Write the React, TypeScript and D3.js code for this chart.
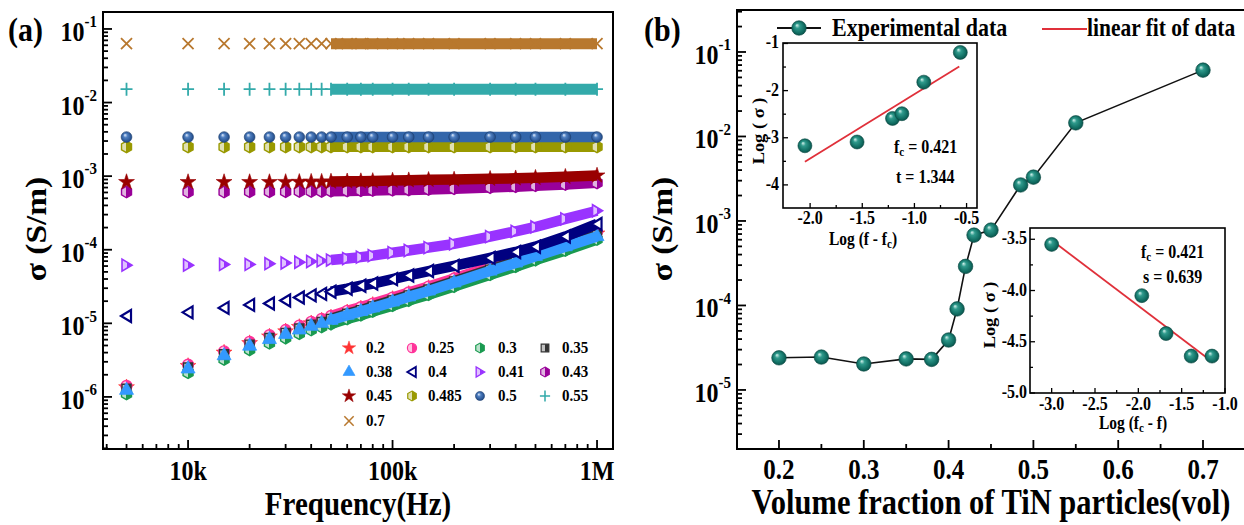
import React from 'react';
import * as d3 from 'd3';

// ---------- Panel (a): AC conductivity vs frequency ----------
const FREQ = [5e3, 1e4, 1.5e4, 2e4, 2.5e4, 3e4, 3.5e4, 4e4, 4.5e4, 5e4, 6e4, 7e4, 8e4, 1e5, 1.2e5, 1.5e5, 2e5, 3e5, 4e5, 5e5, 7e5, 1e6];

const S_020 = [1.35e-6, 2.63e-6, 3.99e-6, 5.37e-6, 6.61e-6, 7.76e-6, 8.91e-6, 1.0e-5, 1.09e-5, 1.2e-5, 1.41e-5, 1.59e-5, 1.78e-5, 2.14e-5, 2.51e-5, 3.02e-5, 3.89e-5, 5.62e-5, 7.24e-5, 8.91e-5, 1.2e-4, 1.66e-4];
const S_025 = [1.41e-6, 2.75e-6, 4.17e-6, 5.62e-6, 6.92e-6, 8.13e-6, 9.33e-6, 1.05e-5, 1.15e-5, 1.26e-5, 1.48e-5, 1.66e-5, 1.86e-5, 2.24e-5, 2.63e-5, 3.16e-5, 4.07e-5, 5.89e-5, 7.59e-5, 9.33e-5, 1.26e-4, 1.74e-4];
const S_030 = [1.1e-6, 2.14e-6, 3.24e-6, 4.37e-6, 5.37e-6, 6.31e-6, 7.24e-6, 8.13e-6, 8.91e-6, 9.77e-6, 1.15e-5, 1.29e-5, 1.45e-5, 1.74e-5, 2.04e-5, 2.45e-5, 3.16e-5, 4.57e-5, 5.89e-5, 7.24e-5, 9.77e-5, 1.38e-4];
const S_035 = [1.29e-6, 2.51e-6, 3.8e-6, 5.13e-6, 6.31e-6, 7.41e-6, 8.51e-6, 9.55e-6, 1.04e-5, 1.15e-5, 1.35e-5, 1.51e-5, 1.7e-5, 2.05e-5, 2.4e-5, 2.88e-5, 3.72e-5, 5.37e-5, 6.92e-5, 8.51e-5, 1.15e-4, 1.58e-4];
const S_038 = [1.23e-6, 2.4e-6, 3.63e-6, 4.9e-6, 6.03e-6, 7.08e-6, 8.13e-6, 9.12e-6, 1.0e-5, 1.1e-5, 1.29e-5, 1.45e-5, 1.62e-5, 1.95e-5, 2.29e-5, 2.75e-5, 3.55e-5, 5.13e-5, 6.61e-5, 8.13e-5, 1.1e-4, 1.51e-4];
const S_040 = [1.26e-5, 1.41e-5, 1.62e-5, 1.78e-5, 1.86e-5, 2.04e-5, 2.24e-5, 2.4e-5, 2.51e-5, 2.69e-5, 2.95e-5, 3.24e-5, 3.47e-5, 3.98e-5, 4.47e-5, 5.13e-5, 6.03e-5, 7.76e-5, 9.33e-5, 1.1e-4, 1.51e-4, 2.24e-4];
const S_041 = [6.17e-5, 6.17e-5, 6.31e-5, 6.31e-5, 6.46e-5, 6.61e-5, 6.76e-5, 6.92e-5, 7.08e-5, 7.24e-5, 7.59e-5, 7.94e-5, 8.32e-5, 9.12e-5, 9.77e-5, 1.07e-4, 1.2e-4, 1.51e-4, 1.78e-4, 2.04e-4, 2.63e-4, 3.39e-4];
const S_043 = [6.1e-4, 6.1e-4, 6.1e-4, 6.15e-4, 6.15e-4, 6.15e-4, 6.2e-4, 6.2e-4, 6.2e-4, 6.25e-4, 6.3e-4, 6.35e-4, 6.4e-4, 6.46e-4, 6.5e-4, 6.6e-4, 6.76e-4, 7.0e-4, 7.2e-4, 7.4e-4, 7.7e-4, 8.1e-4];
const S_045 = [8.3e-4, 8.3e-4, 8.3e-4, 8.3e-4, 8.3e-4, 8.32e-4, 8.35e-4, 8.4e-4, 8.4e-4, 8.45e-4, 8.5e-4, 8.55e-4, 8.6e-4, 8.7e-4, 8.8e-4, 8.9e-4, 9.0e-4, 9.2e-4, 9.35e-4, 9.5e-4, 9.8e-4, 1.02e-3];
const S_0485 = [2.5e-3, 2.5e-3, 2.5e-3, 2.5e-3, 2.5e-3, 2.5e-3, 2.5e-3, 2.5e-3, 2.5e-3, 2.5e-3, 2.5e-3, 2.5e-3, 2.5e-3, 2.5e-3, 2.5e-3, 2.5e-3, 2.5e-3, 2.5e-3, 2.5e-3, 2.5e-3, 2.5e-3, 2.5e-3];
const S_050 = [3.4e-3, 3.4e-3, 3.4e-3, 3.4e-3, 3.4e-3, 3.4e-3, 3.4e-3, 3.4e-3, 3.4e-3, 3.4e-3, 3.4e-3, 3.4e-3, 3.4e-3, 3.4e-3, 3.4e-3, 3.4e-3, 3.4e-3, 3.4e-3, 3.4e-3, 3.4e-3, 3.4e-3, 3.4e-3];
const S_055 = [1.52e-2, 1.52e-2, 1.52e-2, 1.52e-2, 1.52e-2, 1.52e-2, 1.52e-2, 1.52e-2, 1.52e-2, 1.52e-2, 1.52e-2, 1.52e-2, 1.52e-2, 1.52e-2, 1.52e-2, 1.52e-2, 1.52e-2, 1.52e-2, 1.52e-2, 1.52e-2, 1.52e-2, 1.52e-2];
const S_070 = [6.3e-2, 6.3e-2, 6.3e-2, 6.3e-2, 6.3e-2, 6.3e-2, 6.3e-2, 6.3e-2, 6.3e-2, 6.3e-2, 6.3e-2, 6.3e-2, 6.3e-2, 6.3e-2, 6.3e-2, 6.3e-2, 6.3e-2, 6.3e-2, 6.3e-2, 6.3e-2, 6.3e-2, 6.3e-2];

const SERIES_LABELS = ['0.2', '0.25', '0.3', '0.35', '0.38', '0.4', '0.41', '0.43', '0.45', '0.485', '0.5', '0.55', '0.7'];
const SERIES_VALUES = [S_020, S_025, S_030, S_035, S_038, S_040, S_041, S_043, S_045, S_0485, S_050, S_055, S_070];

const A_X_TICKS = [1e4, 1e5, 1e6];
const A_X_LABELS = ['10k', '100k', '1M'];
const A_Y_EXPONENTS = [-1, -2, -3, -4, -5, -6];

// ---------- Panel (b): DC conductivity vs volume fraction ----------
const VOL = [0.2, 0.25, 0.3, 0.35, 0.38, 0.4, 0.41, 0.42, 0.43, 0.45, 0.485, 0.5, 0.55, 0.7];
const SIGMA_DC = [2.4e-5, 2.45e-5, 2.03e-5, 2.33e-5, 2.3e-5, 3.9e-5, 9.1e-5, 2.9e-4, 6.8e-4, 7.8e-4, 2.67e-3, 3.3e-3, 1.45e-2, 6.1e-2];
const B_X_TICKS = [0.2, 0.3, 0.4, 0.5, 0.6, 0.7];
const B_X_MINOR = [0.25, 0.35, 0.45, 0.55, 0.65];
const B_Y_EXPONENTS = [-1, -2, -3, -4, -5];

// inset above threshold: log(sigma) vs log(f - fc)
const UP_X = [-2.05, -1.55, -1.21, -1.12, -0.91, -0.56];
const UP_Y = [-3.17, -3.09, -2.59, -2.49, -1.82, -1.19];
const UP_FIT_X = [-2.05, -0.57];
const UP_FIT_Y = [-3.51, -1.49];
const UP_X_TICKS = [-2.0, -1.5, -1.0, -0.5];
const UP_X_MINOR = [-1.75, -1.25, -0.75];
const UP_Y_TICKS = [-1, -2, -3, -4];
const UP_Y_MINOR = [-1.5, -2.5, -3.5];

// inset below threshold: log(sigma) vs log(fc - f)
const DN_X = [-3.0, -1.96, -1.68, -1.39, -1.15];
const DN_Y = [-3.55, -4.05, -4.42, -4.64, -4.64];
const DN_FIT_X = [-3.0, -1.14];
const DN_FIT_Y = [-3.51, -4.7];
const DN_X_TICKS = [-3.0, -2.5, -2.0, -1.5, -1.0];
const DN_X_MINOR = [-2.75, -2.25, -1.75, -1.25];
const DN_Y_TICKS = [-3.5, -4.0, -4.5, -5.0];
const DN_Y_MINOR = [-3.75, -4.25, -4.75];

// ---------- styles ----------
const STYLES = [
  { shape: 'star', color: '#FF3333', fill: 'solid' },
  { shape: 'circle', color: '#FF3399', fill: 'half' },
  { shape: 'hex', color: '#1A9A50', fill: 'half' },
  { shape: 'square', color: '#333333', fill: 'half' },
  { shape: 'triUp', color: '#3399FF', fill: 'solid' },
  { shape: 'triLeft', color: '#000080', fill: 'hollow' },
  { shape: 'triRight', color: '#9933FF', fill: 'half' },
  { shape: 'hex', color: '#990099', fill: 'half' },
  { shape: 'star', color: '#990000', fill: 'solid' },
  { shape: 'hex', color: '#999900', fill: 'half' },
  { shape: 'circle', color: '#3366AA', fill: 'sphere' },
  { shape: 'plus', color: '#33AAAA', fill: 'line' },
  { shape: 'cross', color: '#B8782E', fill: 'line' },
];

const FONT = '"Liberation Serif", "Times New Roman", Times, serif';
const SY = 1.15;

const A = { l: 103, r: 613, t: 12, b: 449 };
const B = { l: 737, r: 1246, t: 10, b: 449 };

const STAR = d3.symbol(d3.symbolStar, 78)() as string;
const TRI_UP = d3.symbol(d3.symbolTriangle, 85)() as string;

function T(props: any) {
  const { x, y, size, anchor = 'start', rotate = 0, children } = props;
  const tf = rotate
    ? `translate(${x},${y}) rotate(${rotate}) scale(${SY},1)`
    : `translate(${x},${y}) scale(1,${SY})`;
  return (
    <text transform={tf} fontSize={size} fontWeight="bold" fontFamily={FONT} textAnchor={anchor} fill="#000">
      {children}
    </text>
  );
}

function Marker(props: any) {
  const { shape, color, fill, x, y, gid, s = 1 } = props;
  const tr = `translate(${x},${y}) scale(${s})`;
  const f = fill === 'solid' ? color : fill === 'half' || fill === 'sphere' ? `url(#${gid})` : fill === 'hollow' ? '#fff' : 'none';
  switch (shape) {
    case 'star':
      return <path transform={tr} d={STAR} fill={f} stroke={color} strokeWidth={0.6} />;
    case 'circle':
      return <circle transform={tr} r={5.4} fill={f} stroke={fill === 'sphere' ? '#1d3f70' : color} strokeWidth={fill === 'sphere' ? 0.6 : 1.4} />;
    case 'hex':
      return <path transform={tr} d="M0,-5.8L5,-2.9L5,2.9L0,5.8L-5,2.9L-5,-2.9Z" fill={f} stroke={color} strokeWidth={1.4} />;
    case 'square':
      return <path transform={tr} d="M-4.5,-4.5H4.5V4.5H-4.5Z" fill={f} stroke={color} strokeWidth={1.4} />;
    case 'triUp':
      return <path transform={tr} d={TRI_UP} fill={f} stroke={color} strokeWidth={0.8} />;
    case 'triLeft':
      return <path transform={tr} d="M-5.5,0L4.5,-6L4.5,6Z" fill={f} stroke={color} strokeWidth={2.2} strokeLinejoin="miter" />;
    case 'triRight':
      return <path transform={tr} d="M5.5,0L-4.5,-6L-4.5,6Z" fill={f} stroke={color} strokeWidth={1.6} />;
    case 'plus':
      return <path transform={tr} d="M-6,0H6M0,-6.5V6.5" fill="none" stroke={color} strokeWidth={1.8} />;
    case 'cross':
      return <path transform={tr} d="M-5.5,-5.5L5.5,5.5M-5.5,5.5L5.5,-5.5" fill="none" stroke={color} strokeWidth={1.8} />;
    default:
      return null;
  }
}

function logTicks(min: number, max: number) {
  const out: { v: number; major: boolean }[] = [];
  for (let e = Math.floor(Math.log10(min)); e <= Math.ceil(Math.log10(max)); e++) {
    for (let k = 1; k < 10; k++) {
      const v = k * Math.pow(10, e);
      if (v >= min && v <= max) out.push({ v, major: k === 1 });
    }
  }
  return out;
}

function Ball(props: any) {
  return <circle cx={props.x} cy={props.y} r={props.r || 7.3} fill="url(#tealBall)" stroke="#0a4a43" strokeWidth={0.6} />;
}

export default function App() {
  const xA = d3.scaleLog().domain([3837, 1.197e6]).range([A.l, A.r]);
  const yA = d3.scaleLog().domain([1.96e-7, 0.17]).range([A.b, A.t]);
  const xB = d3.scaleLinear().domain([0.1505, 0.7507]).range([B.l, B.r]);
  const yB = d3.scaleLog().domain([2.0e-6, 0.314]).range([B.b, B.t]);
  const xU = d3.scaleLinear().domain([-2.26, -0.4]).range([783, 977]);
  const yU = d3.scaleLinear().domain([-4.49, -0.99]).range([208, 43]);
  const xD = d3.scaleLinear().domain([-3.25, -1.0]).range([1030, 1225]);
  const yD = d3.scaleLinear().domain([-5.0, -3.39]).range([393, 228]);

  const bandStart = 9;
  const band = d3.line<[number, number]>().x((d) => xA(d[0])).y((d) => yA(d[1]));
  const lineB = d3.line<number>().x((_, i) => xB(VOL[i])).y((d) => yB(d));
  const fitU = d3.line<number>().x((_, i) => xU(UP_FIT_X[i])).y((d) => yU(d));
  const fitD = d3.line<number>().x((_, i) => xD(DN_FIT_X[i])).y((d) => yD(d));

  const aXT = logTicks(3837, 1.197e6);
  const aYT = logTicks(1.96e-7, 0.17);
  const bYT = logTicks(2.0e-6, 0.314);

  const legendColX = [349, 412, 480, 545];
  const legendTextX = [366, 428, 498, 562];
  const legendRowY = [348, 372, 396, 421];

  return (
    <svg width={1244} height={525} style={{ position: 'absolute', left: 0, top: 0, background: '#fff' }}>
      <defs>
        {STYLES.map((st, i) => (
          <linearGradient key={i} id={`hf${i}`} x1="0" x2="1" y1="0" y2="0">
            <stop offset="0" stopColor={d3.interpolateRgb(st.color, '#fff')(0.7)} />
            <stop offset="0.45" stopColor={d3.interpolateRgb(st.color, '#fff')(0.7)} />
            <stop offset="0.45" stopColor={st.color} />
            <stop offset="1" stopColor={st.color} />
          </linearGradient>
        ))}
        <radialGradient id="sph10" cx="0.5" cy="0.5" r="0.55" fx="0.35" fy="0.3">
          <stop offset="0" stopColor="#e6f0ff" />
          <stop offset="0.35" stopColor="#4f7fc0" />
          <stop offset="0.8" stopColor="#2a5594" />
          <stop offset="1" stopColor="#1d3f70" />
        </radialGradient>
        <radialGradient id="tealBall" cx="0.5" cy="0.5" r="0.55" fx="0.35" fy="0.3">
          <stop offset="0" stopColor="#d6f3ee" />
          <stop offset="0.3" stopColor="#2f9a8c" />
          <stop offset="0.75" stopColor="#106c61" />
          <stop offset="1" stopColor="#0a4a43" />
        </radialGradient>
      </defs>

      {/* ================= Panel (a) ================= */}
      <T x={8} y={41} size={30}>(a)</T>
      {SERIES_VALUES.map((vals, i) => {
        const st = STYLES[i];
        const gid = st.fill === 'sphere' ? 'sph10' : `hf${i}`;
        const pts: [number, number][] = vals.slice(bandStart).map((v, j) => [FREQ[j + bandStart], v]);
        return (
          <g key={i}>
            <path d={band(pts) || ''} fill="none" stroke={st.color} strokeWidth={st.fill === 'line' ? 11 : 10.5} />
            {vals.map((v, j) => (
              <Marker key={j} {...st} gid={gid} x={xA(FREQ[j])} y={yA(v)} />
            ))}
          </g>
        );
      })}
      <rect x={A.l} y={A.t} width={A.r - A.l} height={A.b - A.t} fill="none" stroke="#000" strokeWidth={2} />
      {aXT.map((t, i) => (
        <line key={i} x1={xA(t.v)} x2={xA(t.v)} y1={A.b} y2={A.b - (t.major ? 9 : 5)} stroke="#000" strokeWidth={1.8} />
      ))}
      {aYT.map((t, i) => (
        <line key={i} x1={A.l} x2={A.l + (t.major ? 9 : 5)} y1={yA(t.v)} y2={yA(t.v)} stroke="#000" strokeWidth={1.8} />
      ))}
      {A_X_TICKS.map((v, i) => (
        <T key={i} x={xA(v)} y={480} size={24} anchor="middle">{A_X_LABELS[i]}</T>
      ))}
      {A_Y_EXPONENTS.map((e) => (
        <T key={e} x={97} y={yA(Math.pow(10, e)) + 12} size={24} anchor="end">
          10<tspan dy={-12} fontSize={15}>{`-${-e}`}</tspan>
        </T>
      ))}
      <T x={358} y={515} size={29} anchor="middle">Frequency(Hz)</T>
      <T x={46} y={229} size={29} anchor="middle" rotate={-90}>σ (S/m)</T>

      {SERIES_LABELS.map((lab, i) => {
        const r = Math.floor(i / 4);
        const c = i % 4;
        const st = STYLES[i];
        const gid = st.fill === 'sphere' ? 'sph10' : `hf${i}`;
        return (
          <g key={lab}>
            <Marker {...st} gid={gid} x={legendColX[c]} y={legendRowY[r]} s={0.85} />
            <T x={legendTextX[c]} y={legendRowY[r] + 5} size={15}>{lab}</T>
          </g>
        );
      })}

      {/* ================= Panel (b) ================= */}
      <T x={644} y={41} size={30}>(b)</T>
      <path d={lineB(SIGMA_DC) || ''} fill="none" stroke="#111" strokeWidth={1.6} />
      {SIGMA_DC.map((v, i) => (
        <Ball key={i} x={xB(VOL[i])} y={yB(v)} />
      ))}
      <rect x={B.l} y={B.t} width={B.r - B.l} height={B.b - B.t} fill="none" stroke="#000" strokeWidth={2} />
      {B_X_TICKS.map((v) => (
        <line key={v} x1={xB(v)} x2={xB(v)} y1={B.b} y2={B.b - 9} stroke="#000" strokeWidth={1.8} />
      ))}
      {B_X_MINOR.map((v) => (
        <line key={v} x1={xB(v)} x2={xB(v)} y1={B.b} y2={B.b - 5} stroke="#000" strokeWidth={1.8} />
      ))}
      {bYT.map((t, i) => (
        <line key={i} x1={B.l} x2={B.l + (t.major ? 9 : 5)} y1={yB(t.v)} y2={yB(t.v)} stroke="#000" strokeWidth={1.8} />
      ))}
      {B_X_TICKS.map((v) => (
        <T key={v} x={xB(v)} y={479} size={25} anchor="middle">{v.toFixed(1)}</T>
      ))}
      {B_Y_EXPONENTS.map((e) => (
        <T key={e} x={731} y={yB(Math.pow(10, e)) + 12} size={24} anchor="end">
          10<tspan dy={-12} fontSize={15}>{`-${-e}`}</tspan>
        </T>
      ))}
      <T x={991} y={514} size={30.5} anchor="middle">Volume fraction of TiN particles(vol)</T>
      <T x={672} y={229} size={29} anchor="middle" rotate={-90}>σ (S/m)</T>

      {/* legend (b) */}
      <line x1={777} x2={821} y1={28} y2={28} stroke="#111" strokeWidth={1.8} />
      <Ball x={799} y={28} />
      <T x={832} y={36} size={22}>Experimental data</T>
      <line x1={1042} x2={1087} y1={29} y2={29} stroke="#E0303A" strokeWidth={1.8} />
      <T x={1087} y={36} size={21.5}>linear fit of data</T>

      {/* inset above threshold */}
      <rect x={783} y={43} width={194} height={165} fill="#fff" stroke="#000" strokeWidth={1.6} />
      <path d={fitU(UP_FIT_Y) || ''} stroke="#E0303A" strokeWidth={1.8} fill="none" />
      {UP_Y.map((v, i) => (
        <Ball key={i} x={xU(UP_X[i])} y={yU(v)} r={7} />
      ))}
      {UP_X_TICKS.map((v) => (
        <line key={v} x1={xU(v)} x2={xU(v)} y1={208} y2={203} stroke="#000" strokeWidth={1.3} />
      ))}
      {UP_X_MINOR.map((v) => (
        <line key={v} x1={xU(v)} x2={xU(v)} y1={208} y2={205} stroke="#000" strokeWidth={1.3} />
      ))}
      {UP_Y_TICKS.map((v) => (
        <line key={v} x1={783} x2={788} y1={yU(v)} y2={yU(v)} stroke="#000" strokeWidth={1.3} />
      ))}
      {UP_Y_MINOR.map((v) => (
        <line key={v} x1={783} x2={786} y1={yU(v)} y2={yU(v)} stroke="#000" strokeWidth={1.3} />
      ))}
      {UP_X_TICKS.map((v) => (
        <T key={v} x={xU(v)} y={224} size={16} anchor="middle">{v.toFixed(1)}</T>
      ))}
      {UP_Y_TICKS.map((v) => (
        <T key={v} x={779} y={yU(v) + 5} size={16} anchor="end">{String(v)}</T>
      ))}
      <T x={863} y={245} size={15.5} anchor="middle">
        Log (f - f<tspan fontSize={11} dy={3}>c</tspan><tspan dy={-3}>)</tspan>
      </T>
      <T x={764} y={131} size={16} anchor="middle" rotate={-90}>Log ( σ )</T>
      <T x={894} y={153} size={16}>
        f<tspan fontSize={11} dy={3}>c</tspan><tspan dy={-3}> = 0.421</tspan>
      </T>
      <T x={896} y={183} size={16}>t = 1.344</T>

      {/* inset below threshold */}
      <rect x={1030} y={228} width={195} height={165} fill="#fff" stroke="#000" strokeWidth={1.6} />
      <path d={fitD(DN_FIT_Y) || ''} stroke="#E0303A" strokeWidth={1.8} fill="none" />
      {DN_Y.map((v, i) => (
        <Ball key={i} x={xD(DN_X[i])} y={yD(v)} r={7} />
      ))}
      {DN_X_TICKS.map((v) => (
        <line key={v} x1={xD(v)} x2={xD(v)} y1={393} y2={388} stroke="#000" strokeWidth={1.3} />
      ))}
      {DN_X_MINOR.map((v) => (
        <line key={v} x1={xD(v)} x2={xD(v)} y1={393} y2={390} stroke="#000" strokeWidth={1.3} />
      ))}
      {DN_Y_TICKS.map((v) => (
        <line key={v} x1={1030} x2={1035} y1={yD(v)} y2={yD(v)} stroke="#000" strokeWidth={1.3} />
      ))}
      {DN_Y_MINOR.map((v) => (
        <line key={v} x1={1030} x2={1033} y1={yD(v)} y2={yD(v)} stroke="#000" strokeWidth={1.3} />
      ))}
      {DN_X_TICKS.map((v) => (
        <T key={v} x={xD(v)} y={410} size={16} anchor="middle">{v.toFixed(1)}</T>
      ))}
      {DN_Y_TICKS.map((v) => (
        <T key={v} x={1027} y={yD(v) + 5} size={16} anchor="end">{v.toFixed(1)}</T>
      ))}
      <T x={1133} y={429} size={15.5} anchor="middle">
        Log (f<tspan fontSize={11} dy={3}>c</tspan><tspan dy={-3}> - f)</tspan>
      </T>
      <T x={995} y={315} size={16} anchor="middle" rotate={-90}>Log ( σ )</T>
      <T x={1141} y={258} size={16}>
        f<tspan fontSize={11} dy={3}>c</tspan><tspan dy={-3}> = 0.421</tspan>
      </T>
      <T x={1143} y={283} size={16}>s = 0.639</T>
    </svg>
  );
}
